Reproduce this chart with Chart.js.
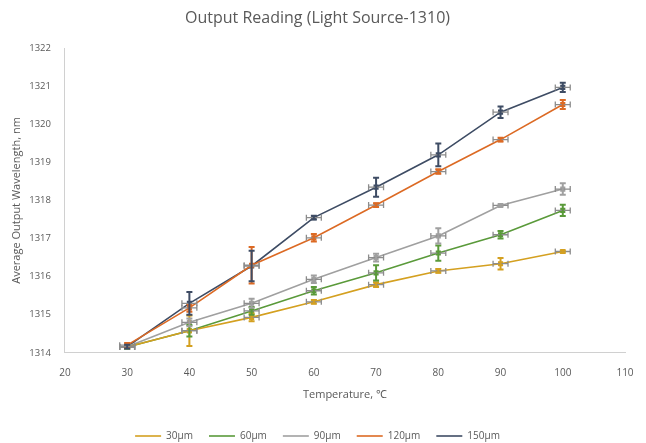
<!DOCTYPE html>
<html>
<head>
<meta charset="utf-8">
<script src="https://cdn.jsdelivr.net/npm/chart.js@4"></script>
<style>
  html, body { margin: 0; padding: 0; background: #fff; }
  #wrap { width: 646px; height: 443px; }
</style>
</head>
<body>
<div id="wrap"><canvas id="graph"></canvas></div>
<script>
// temperatures (°C)
const temps = [30, 40, 50, 60, 70, 80, 90, 100];
const seriesNames = ['30µm', '60µm', '90µm', '120µm', '150µm'];

// average output wavelength, nm
const w30  = [1314.15, 1314.58, 1314.93, 1315.34, 1315.79, 1316.15, 1316.34, 1316.66];
const w60  = [1314.15, 1314.58, 1315.10, 1315.63, 1316.10, 1316.62, 1317.10, 1317.74];
const w90  = [1314.16, 1314.80, 1315.30, 1315.93, 1316.50, 1317.07, 1317.87, 1318.30];
const w120 = [1314.20, 1315.18, 1316.30, 1317.02, 1317.88, 1318.76, 1319.60, 1320.52];
const w150 = [1314.16, 1315.30, 1316.28, 1317.55, 1318.35, 1319.20, 1320.32, 1320.97];

// y error (± nm)
const e30  = [0.05, 0.40, 0.10, 0.05, 0.06, 0.05, 0.15, 0.03];
const e60  = [0.05, 0.15, 0.10, 0.10, 0.20, 0.20, 0.10, 0.15];
const e90  = [0.05, 0.10, 0.12, 0.10, 0.10, 0.20, 0.03, 0.15];
const e120 = [0.06, 0.10, 0.48, 0.10, 0.05, 0.06, 0.05, 0.12];
const e150 = [0.05, 0.30, 0.40, 0.05, 0.25, 0.30, 0.15, 0.12];

// x error (± °C)
const xErr = 1.2;

const colors = ['#d4a020', '#5a9a3a', '#a0a0a0', '#dc6a24', '#3e4c64'];
const values = [w30, w60, w90, w120, w150];
const errors = [e30, e60, e90, e120, e150];

const datasets = seriesNames.map((name, i) => ({
  label: name,
  data: temps.map((t, j) => ({ x: t, y: values[i][j] })),
  yErr: errors[i],
  borderColor: colors[i],
  backgroundColor: colors[i],
  borderWidth: 1.6,
  pointStyle: 'rect',
  pointRadius: 2.5,
  showLine: true,
  tension: 0
}));

// draws error bars with the chart scales
const errorBars = {
  id: 'errorBars',
  afterDatasetsDraw(chart) {
    const ctx = chart.ctx, xs = chart.scales.x, ys = chart.scales.y;
    ctx.save();
    chart.data.datasets.forEach((ds) => {
      ds.data.forEach((p, j) => {
        const px = xs.getPixelForValue(p.x), py = ys.getPixelForValue(p.y);
        // horizontal (gray)
        const x1 = xs.getPixelForValue(p.x - xErr), x2 = xs.getPixelForValue(p.x + xErr);
        ctx.strokeStyle = '#8c8c8c';
        ctx.lineWidth = 1.3;
        ctx.beginPath();
        ctx.moveTo(x1, py); ctx.lineTo(x2, py);
        ctx.moveTo(x1, py - 3); ctx.lineTo(x1, py + 3);
        ctx.moveTo(x2, py - 3); ctx.lineTo(x2, py + 3);
        ctx.stroke();
        // vertical
        const e = ds.yErr[j];
        const y1 = ys.getPixelForValue(p.y - e), y2 = ys.getPixelForValue(p.y + e);
        ctx.strokeStyle = ds.borderColor;
        ctx.lineWidth = 2;
        ctx.beginPath();
        ctx.moveTo(px, y1); ctx.lineTo(px, y2);
        ctx.moveTo(px - 3, y1); ctx.lineTo(px + 3, y1);
        ctx.moveTo(px - 3, y2); ctx.lineTo(px + 3, y2);
        ctx.stroke();
      });
    });
    ctx.restore();
  }
};

Chart.defaults.font.family = '"Open Sans", sans-serif';
Chart.defaults.color = '#595959';

new Chart(document.getElementById('graph'), {
  type: 'scatter',
  data: { datasets },
  plugins: [errorBars],
  options: {
    responsive: true,
    maintainAspectRatio: false,
    animation: false,
    layout: { padding: { left: 10, right: 21, top: 7, bottom: -8 } },
    plugins: {
      title: {
        display: true,
        text: 'Output Reading (Light Source-1310)',
        font: { size: 16, weight: 'normal' },
        color: '#595959',
        padding: { top: 2, bottom: 20 }
      },
      legend: {
        position: 'bottom',
        padding: 0,
        labels: {
          usePointStyle: true,
          pointStyle: 'line',
          pointStyleWidth: 26,
          font: { size: 10 },
          padding: 16
        }
      },
      tooltip: { enabled: false }
    },
    scales: {
      x: {
        type: 'linear',
        min: 20, max: 110,
        ticks: { stepSize: 10, font: { size: 10 }, padding: 6 },
        grid: { display: false },
        border: { color: '#d0d0d0' },
        title: { display: true, text: 'Temperature, ℃', font: { size: 11 }, padding: { top: 3, bottom: 14 } }
      },
      y: {
        min: 1314, max: 1322,
        ticks: { stepSize: 1, font: { size: 9.5 }, padding: 6, callback: (v) => String(v) },
        grid: { display: false },
        border: { color: '#d0d0d0' },
        title: { display: true, text: 'Average Output Wavelength, nm', font: { size: 11 }, padding: { top: 0, bottom: 0 } }
      }
    }
  }
});
</script>
</body>
</html>
